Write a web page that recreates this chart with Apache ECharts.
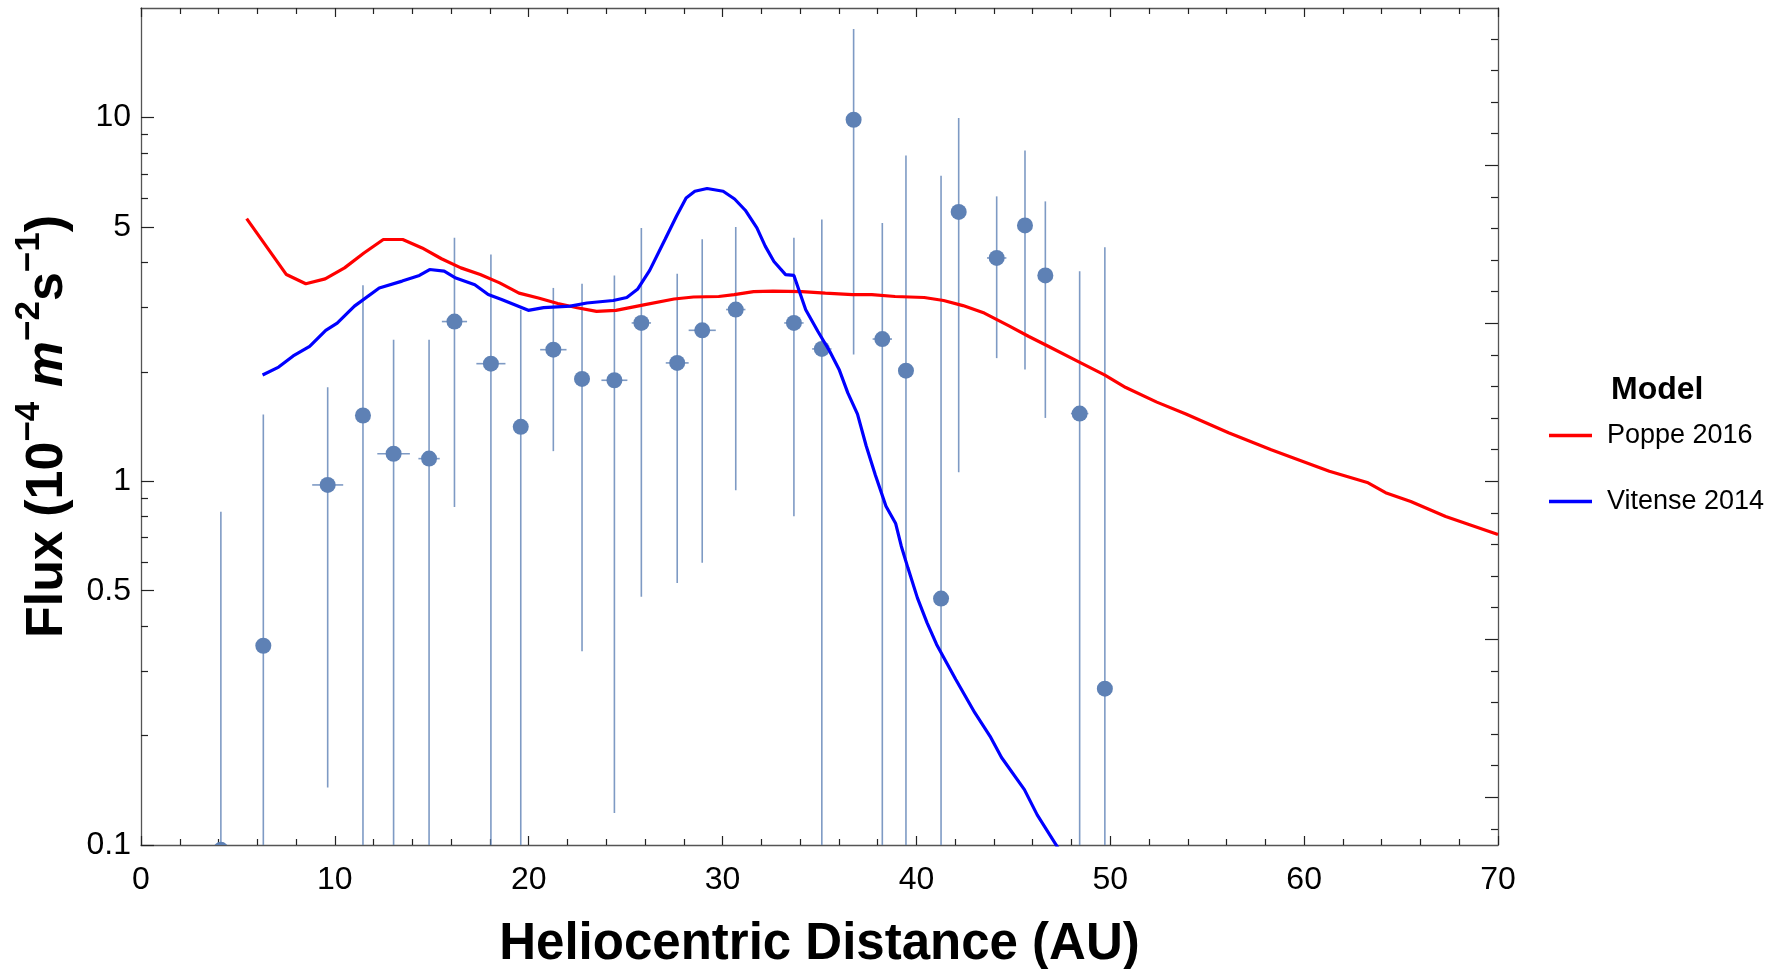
<!DOCTYPE html>
<html><head><meta charset="utf-8">
<script src="https://cdn.jsdelivr.net/npm/echarts@6/dist/echarts.min.js"></script>
<style>html,body{margin:0;padding:0;background:#fff}#c{width:1777px;height:969px}</style>
</head><body><div id="c"></div>
<script>
// ---- measured data (Heliocentric distance in AU, flux in 1e-4 m^-2 s^-1) ----
const distance = [4.12, 6.31, 9.63, 11.45, 13.03, 14.86, 16.17, 18.05, 19.59, 21.27, 22.75, 24.42, 25.81, 27.66, 28.95, 30.68, 33.68, 35.12, 36.76, 38.24, 39.46, 41.27, 42.18, 44.14, 45.6, 46.65, 48.42, 49.72];
const flux     = [0.097, 0.353, 0.977, 1.516, 1.19, 1.154, 2.748, 2.105, 1.411, 2.30, 1.911, 1.895, 2.724, 2.115, 2.60, 2.965, 2.724, 2.311, 9.86, 2.46, 2.014, 0.4757, 5.50, 4.11, 5.05, 3.68, 1.535, 0.269];
const fluxHigh = [0.824, 1.527, 1.814, 3.46, 2.45, 2.45, 4.67, 4.2, 2.96, 3.40, 3.49, 3.68, 4.97, 3.72, 4.63, 5.0, 4.67, 5.24, 17.5, 5.13, 7.86, 6.92, 9.97, 6.07, 8.11, 5.88, 3.78, 4.40];
const fluxLow  = [0.1, 0.1, 0.144, 0.1, 0.1, 0.1, 0.85, 0.1, 0.1, 1.21, 0.341, 0.1225, 0.481, 0.525, 0.597, 0.944, 0.801, 0.1, 2.23, 0.1, 0.1, 0.1, 1.059, 2.18, 2.03, 1.493, 0.1, 0.1];
const distErr  = [0, 0, 0.8, 0, 0.84, 0.55, 0.65, 0.75, 0, 0.68, 0, 0.67, 0.5, 0.59, 0.7, 0.5, 0.5, 0.5, 0, 0.5, 0, 0, 0, 0.5, 0, 0, 0.45, 0];

// ---- model curves ----
const poppeX = [5.45, 7.5, 8.5, 9.5, 10.5, 11.5, 12.5, 13.5, 14.5, 15.5, 16.5, 17.5, 18.5, 19.5, 20.5, 21.5, 22.5, 23.5, 24.5, 26.0, 27.5, 28.5, 29.8, 30.6, 31.6, 32.6, 34.1, 35.3, 36.7, 37.7, 38.9, 40.4, 41.4, 42.4, 43.5, 44.8, 45.8, 46.8, 48.3, 49.7, 50.8, 52.4, 53.9, 56.1, 58.3, 60.6, 61.3, 63.3, 64.2, 65.5, 67.3, 70];
const poppeY = [5.27, 3.70, 3.49, 3.60, 3.86, 4.24, 4.62, 4.62, 4.38, 4.09, 3.86, 3.70, 3.51, 3.29, 3.19, 3.08, 3.00, 2.93, 2.95, 3.06, 3.17, 3.21, 3.22, 3.26, 3.32, 3.33, 3.32, 3.29, 3.26, 3.26, 3.22, 3.20, 3.14, 3.04, 2.90, 2.67, 2.50, 2.35, 2.14, 1.96, 1.81, 1.65, 1.53, 1.36, 1.22, 1.10, 1.065, 0.99, 0.93, 0.88, 0.80, 0.714];
const vitenseX = [6.27, 7.1, 7.85, 8.7, 9.53, 10.12, 11.01, 12.29, 13.47, 14.36, 14.89, 15.64, 16.24, 17.22, 17.91, 18.6, 19.98, 20.77, 22.15, 23.0, 24.36, 25.06, 25.61, 26.24, 27.03, 27.62, 28.12, 28.57, 29.2, 30.03, 30.62, 31.17, 31.77, 32.2, 32.65, 33.25, 33.68, 34.29, 34.92, 35.52, 36.01, 36.46, 36.96, 37.41, 37.88, 38.43, 38.93, 39.22, 39.56, 40.05, 40.55, 41.04, 42.03, 43.01, 43.8, 44.39, 45.57, 46.23, 47.26, 47.8];
const vitenseY = [1.96, 2.06, 2.21, 2.35, 2.60, 2.72, 3.03, 3.40, 3.55, 3.68, 3.82, 3.78, 3.62, 3.47, 3.26, 3.16, 2.95, 3.00, 3.03, 3.09, 3.14, 3.20, 3.37, 3.80, 4.62, 5.35, 6.01, 6.27, 6.38, 6.27, 5.97, 5.56, 4.97, 4.43, 4.02, 3.70, 3.68, 2.96, 2.58, 2.28, 2.03, 1.75, 1.53, 1.25, 1.04, 0.854, 0.765, 0.663, 0.578, 0.478, 0.408, 0.356, 0.285, 0.231, 0.199, 0.174, 0.142, 0.121, 0.099, 0.089];
const seriesNames = ['Poppe 2016', 'Vitense 2014'];
const seriesColors = ['#FF0000', '#0000FF'];

// ---- axes / ticks ----
const xMin = 0, xMax = 70, xStep = 10;
const yMin = 0.1, yMax = 20;
const yLabelValues = [0.1, 0.5, 1, 5, 10];
const yMinorValues = [0.2, 0.3, 0.4, 0.6, 0.7, 0.8, 0.9, 2, 3, 4, 6, 7, 8, 9];
const lnMajorTicks = [-2, -1, 0, 1, 2];
const lnMinorTicks = [-2.2, -1.8, -1.6, -1.4, -1.2, -0.8, -0.6, -0.4, -0.2, 0.2, 0.4, 0.6, 0.8, 1.2, 1.4, 1.6, 1.8, 2.2, 2.4, 2.6, 2.8];

const FONT = 'Liberation Sans, Arial, sans-serif';
const AX = '#555';
const TK = '#222';
const L = Math.log10;

const chart = echarts.init(document.getElementById('c'), null, {renderer: 'canvas'});
const frameLine = {show: true, onZero: false, lineStyle: {color: AX, width: 1.3}};
const noLine = {show: false, onZero: false};

const xBase = {
  type: 'value', min: xMin, max: xMax, interval: xStep,
  axisLine: frameLine,
  axisTick: {show: true, inside: true, length: 9, lineStyle: {color: TK, width: 1.2}},
  minorTick: {show: true, splitNumber: 5, length: 6, lineStyle: {color: TK, width: 1.2}},
  splitLine: {show: false}, minorSplitLine: {show: false}
};

const yLeftMajor = {
  type: 'value', position: 'left', min: L(yMin), max: L(yMax),
  axisLine: frameLine,
  axisTick: {show: true, inside: true, length: 13, customValues: yLabelValues.map(L), lineStyle: {color: TK, width: 1.2}},
  axisLabel: {show: true, customValues: yLabelValues.map(L), margin: 10, fontSize: 32, color: '#000', fontFamily: FONT,
    formatter: v => String(parseFloat(Math.pow(10, v).toPrecision(3)))},
  splitLine: {show: false},
  name: '{b|Flux (10}{s|\u22124}{b| }{i|m}{s|\u22122}{b|s}{s|\u22121}{b|)}',
  nameLocation: 'middle', nameRotate: 90, nameGap: 67,
  nameTextStyle: {
    fontFamily: FONT, fontWeight: 'bold', fontSize: 52, color: '#000',
    rich: {
      b: {fontFamily: FONT, fontWeight: 'bold', fontSize: 52, color: '#000', lineHeight: 62, verticalAlign: 'bottom'},
      i: {fontFamily: FONT, fontWeight: 'bold', fontStyle: 'italic', fontSize: 52, color: '#000', lineHeight: 62, verticalAlign: 'bottom'},
      s: {fontFamily: FONT, fontWeight: 'bold', fontSize: 35, color: '#000', lineHeight: 40, verticalAlign: 'top'}
    }
  }
};
const yLeftMinor = {
  type: 'value', position: 'left', min: L(yMin), max: L(yMax),
  axisLine: noLine,
  axisTick: {show: true, inside: true, length: 7, customValues: yMinorValues.map(L), lineStyle: {color: TK, width: 1.2}},
  axisLabel: {show: false}, splitLine: {show: false}
};
const yRightMajor = {
  type: 'value', position: 'right', min: Math.log(yMin), max: Math.log(yMax),
  axisLine: frameLine,
  axisTick: {show: true, inside: true, length: 13, customValues: lnMajorTicks, lineStyle: {color: TK, width: 1.2}},
  axisLabel: {show: false}, splitLine: {show: false}
};
const yRightMinor = {
  type: 'value', position: 'right', min: Math.log(yMin), max: Math.log(yMax),
  axisLine: noLine,
  axisTick: {show: true, inside: true, length: 7, customValues: lnMinorTicks, lineStyle: {color: TK, width: 1.2}},
  axisLabel: {show: false}, splitLine: {show: false}
};

const pointData = distance.map((d, i) => [d, L(flux[i]), L(fluxLow[i]), L(fluxHigh[i]), distErr[i]]);
const PT = '#5E81B5';

const option = {
  animation: false,
  backgroundColor: '#fff',
  grid: {left: 141, right: 279, top: 8, bottom: 124, containLabel: false, outerBoundsMode: 'none'},
  title: {text: 'Model', left: 1611, top: 374, padding: 0,
    textStyle: {fontFamily: FONT, fontWeight: 'bold', fontSize: 32, color: '#000'}},
  legend: {
    data: seriesNames.map((n, i) => ({name: n, icon: 'path://M0,0L43,0L43,3.4L0,3.4Z', itemStyle: {color: seriesColors[i]}})),
    orient: 'vertical', left: 1549, top: 422, padding: 0,
    itemWidth: 43, itemHeight: 27, itemGap: 39,
    textStyle: {fontFamily: FONT, fontSize: 27, color: '#000', padding: [0, 0, 0, 10]}
  },
  xAxis: [
    Object.assign({}, xBase, {
      position: 'bottom',
      axisLabel: {show: true, margin: 19, fontSize: 32, color: '#000', fontFamily: FONT},
      name: 'Heliocentric Distance (AU)', nameLocation: 'middle', nameGap: 74,
      nameTextStyle: {fontFamily: FONT, fontWeight: 'bold', fontSize: 51, color: '#000'}
    }),
    Object.assign({}, xBase, {position: 'top', axisLabel: {show: false}})
  ],
  yAxis: [yLeftMajor, yLeftMinor, yRightMajor, yRightMinor],
  series: [
    {
      type: 'custom', name: 'data', xAxisIndex: 0, yAxisIndex: 0, clip: true, z: 2, silent: true,
      data: pointData,
      encode: {x: 0, y: 1},
      renderItem: (params, api) => {
        const x = api.value(0), ly = api.value(1), lo = api.value(2), hi = api.value(3), xe = api.value(4);
        const c = api.coord([x, ly]);
        const t = api.coord([x, hi]);
        const b = api.coord([x, lo]);
        const barStyle = {stroke: PT, lineWidth: 1.6, opacity: 0.8};
        const children = [{type: 'line', shape: {x1: c[0], y1: t[1], x2: c[0], y2: b[1]}, style: barStyle}];
        if (xe > 0) {
          const l = api.coord([x - xe, ly]), r = api.coord([x + xe, ly]);
          children.push({type: 'line', shape: {x1: l[0], y1: c[1], x2: r[0], y2: c[1]}, style: barStyle});
        }
        children.push({type: 'circle', shape: {cx: c[0], cy: c[1], r: 8}, style: {fill: PT}});
        return {type: 'group', children};
      }
    },
    {
      type: 'line', name: seriesNames[0], xAxisIndex: 0, yAxisIndex: 0, clip: true, z: 3,
      showSymbol: false, symbol: 'none', color: seriesColors[0],
      lineStyle: {color: seriesColors[0], width: 3.2},
      data: poppeX.map((x, i) => [x, L(poppeY[i])])
    },
    {
      type: 'line', name: seriesNames[1], xAxisIndex: 0, yAxisIndex: 0, clip: true, z: 3,
      showSymbol: false, symbol: 'none', color: seriesColors[1],
      lineStyle: {color: seriesColors[1], width: 3.2},
      data: vitenseX.map((x, i) => [x, L(vitenseY[i])])
    }
  ]
};
chart.setOption(option);
</script>
</body></html>
